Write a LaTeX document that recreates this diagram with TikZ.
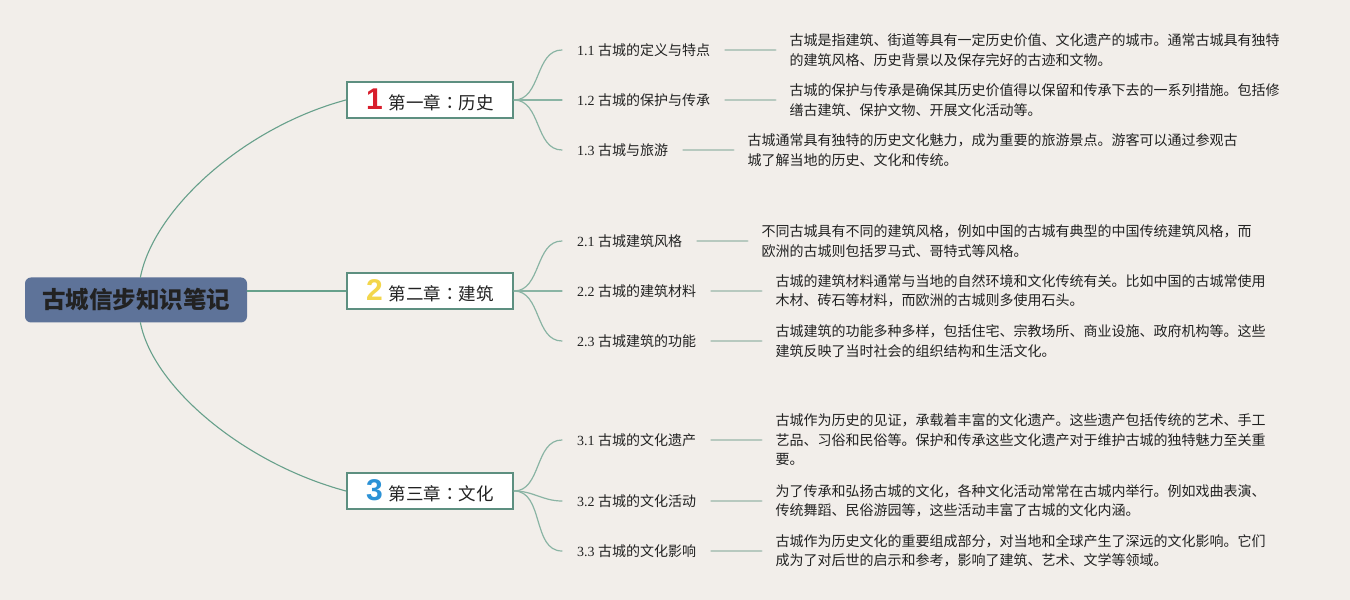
\documentclass[tikz,border=0pt]{standalone}
\usepackage{fontspec}
\setmainfont{Liberation Serif}
\newfontfamily\cjk{Noto Sans CJK SC}
\newfontfamily\cjkpunct{Noto Sans CJK TC}
\newfontfamily\numfont{Liberation Sans}
\usetikzlibrary{positioning}

\definecolor{bgcol}{HTML}{F2EEEA}
\definecolor{rootfill}{HTML}{5E7399}
\definecolor{trunkcol}{HTML}{67A08B}
\definecolor{twigcol}{HTML}{8AB4A4}
\definecolor{stubcol}{HTML}{B7C9BF}
\definecolor{boxcol}{HTML}{5D8F80}
\definecolor{numred}{HTML}{D81E2C}
\definecolor{numyellow}{HTML}{F3D64B}
\definecolor{numblue}{HTML}{2C92D6}
\definecolor{inkcol}{HTML}{222222}

\newcommand{\chapnum}[2]{{\numfont\bfseries\fontsize{30}{30}\selectfont\color{#1}#2}\hspace{6pt}}

\begin{document}
\begin{tikzpicture}[
    x=1pt, y=1pt, line cap=round,
    root/.style   ={fill=rootfill, rounded corners=6pt, minimum width=222pt, minimum height=45pt,
                    font=\cjk\bfseries\fontsize{23.5}{26}\selectfont, text=inkcol},
    chap/.style   ={draw=boxcol, fill=white, line width=2.2pt, minimum width=166pt, minimum height=36.6pt,
                    inner sep=0pt, font=\fontsize{17.5}{20}\selectfont, text=inkcol},
    topic/.style  ={anchor=west, inner xsep=15pt, inner ysep=2pt, font=\fontsize{14}{17}\selectfont, text=inkcol},
    desc/.style   ={inner xsep=14pt, inner ysep=0pt, align=left, font=\cjk\fontsize{14}{19.5}\selectfont, text=inkcol},
    trunk/.style  ={draw=trunkcol, line width=1.1pt},
    twig/.style   ={draw=twigcol, line width=1.2pt},
    stub/.style   ={draw=stubcol, line width=2.5pt}
]
\fill[bgcol] (0,0) rectangle (1350,600);
\useasboundingbox (0,0) rectangle (1350,600);

% centre
\node[root] (root) at (136,300) {古城信步知识笔记};

% chapters
\node[chap] (ch1) at (430,500) {\chapnum{numred}{1}{\cjk 第一章{\cjkpunct ：}历史}};
\node[chap] (ch2) at (430,309) {\chapnum{numyellow}{2}{\cjk 第二章{\cjkpunct ：}建筑}};
\node[chap] (ch3) at (430,109) {\chapnum{numblue}{3}{\cjk 第三章{\cjkpunct ：}文化}};

\draw[trunk] (root) to[out=79, in=195, out distance=70pt, in distance=105pt] (ch1.west);
\draw[trunk] (ch2.west) -- (ch2.west -| root.east);
\draw[trunk] (root) to[out=-79, in=165, out distance=66pt, in distance=105pt] (ch3.west);

% chapter 1: history
\node[topic] (s11) at (562,550) {1.1 {\cjk 古城的定义与特点}};
\node[topic] (s12) at (562,500) {1.2 {\cjk 古城的保护与传承}};
\node[topic] (s13) at (562,450) {1.3 {\cjk 古城与旅游}};
\node[desc, right=50pt of s11] (d11) {古城是指建筑、街道等具有一定历史价值、文化遗产的城市。通常古城具有独特\\的建筑风格、历史背景以及保存完好的古迹和文物。};
\node[desc, right=50pt of s12] (d12) {古城的保护与传承是确保其历史价值得以保留和传承下去的一系列措施。包括修\\缮古建筑、保护文物、开展文化活动等。};
\node[desc, right=50pt of s13] (d13) {古城通常具有独特的历史文化魅力，成为重要的旅游景点。游客可以通过参观古\\城了解当地的历史、文化和传统。};

% chapter 2: architecture
\node[topic] (s21) at (562,359) {2.1 {\cjk 古城建筑风格}};
\node[topic] (s22) at (562,309) {2.2 {\cjk 古城的建筑材料}};
\node[topic] (s23) at (562,259) {2.3 {\cjk 古城建筑的功能}};
\node[desc, right=50pt of s21] (d21) {不同古城具有不同的建筑风格，例如中国的古城有典型的中国传统建筑风格，而\\欧洲的古城则包括罗马式、哥特式等风格。};
\node[desc, right=50pt of s22] (d22) {古城的建筑材料通常与当地的自然环境和文化传统有关。比如中国的古城常使用\\木材、砖石等材料，而欧洲的古城则多使用石头。};
\node[desc, right=50pt of s23] (d23) {古城建筑的功能多种多样，包括住宅、宗教场所、商业设施、政府机构等。这些\\建筑反映了当时社会的组织结构和生活文化。};

% chapter 3: culture
\node[topic] (s31) at (562,160) {3.1 {\cjk 古城的文化遗产}};
\node[topic] (s32) at (562,99) {3.2 {\cjk 古城的文化活动}};
\node[topic] (s33) at (562,49) {3.3 {\cjk 古城的文化影响}};
\node[desc, right=50pt of s31] (d31) {古城作为历史的见证，承载着丰富的文化遗产。这些遗产包括传统的艺术、手工\\艺品、习俗和民俗等。保护和传承这些文化遗产对于维护古城的独特魅力至关重\\要。};
\node[desc, right=50pt of s32] (d32) {为了传承和弘扬古城的文化，各种文化活动常常在古城内举行。例如戏曲表演、\\传统舞蹈、民俗游园等，这些活动丰富了古城的文化内涵。};
\node[desc, right=50pt of s33] (d33) {古城作为历史文化的重要组成部分，对当地和全球产生了深远的文化影响。它们\\成为了对后世的启示和参考，影响了建筑、艺术、文学等领域。};

% branches and stubs
\foreach \c in {1,2,3}
  \foreach \t in {1,2,3} {
    \draw[twig] (ch\c.east) to[out=0, in=180] (s\c\t.west);
    \draw[stub] (s\c\t) -- (d\c\t);
  }
\end{tikzpicture}
\end{document}
